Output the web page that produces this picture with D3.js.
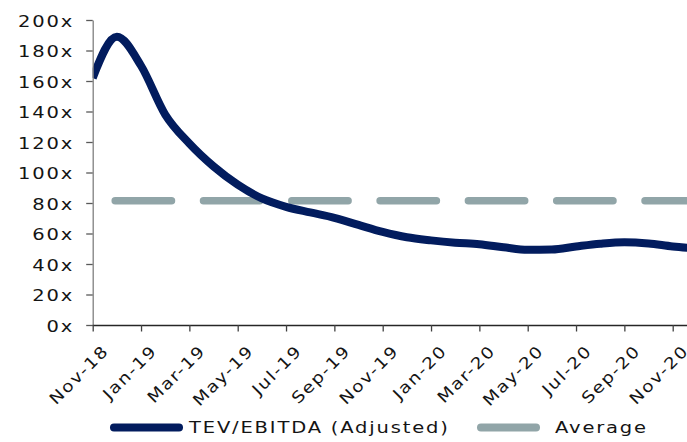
<!DOCTYPE html>
<html>
<head>
<meta charset="utf-8">
<script src="https://cdn.jsdelivr.net/npm/d3@7"></script>
<style>
  html, body { margin: 0; padding: 0; background: #fff; }
  svg { display: block; }
  text { font-family: "DejaVu Sans", sans-serif; fill: #141414; }
</style>
</head>
<body>
<svg id="chart" width="687" height="442"></svg>
<script>
// ---- data ----
const months = ["Nov-18","Dec-18","Jan-19","Feb-19","Mar-19","Apr-19","May-19","Jun-19","Jul-19","Aug-19","Sep-19","Oct-19",
                "Nov-19","Dec-19","Jan-20","Feb-20","Mar-20","Apr-20","May-20","Jun-20","Jul-20","Aug-20","Sep-20","Oct-20","Nov-20","Dec-20"];
const tevEbitda = [162, 189, 170, 138, 119, 104, 92, 83, 77.5, 73.8, 70.3, 65.6,
                   61, 57.5, 55.5, 54, 53, 51, 49.3, 49.5, 51.5, 53.3, 54.3, 53.5, 51.5, 50.2];
const averageValue = 81.5;
const yTicks = [0, 20, 40, 60, 80, 100, 120, 140, 160, 180, 200];
const xTickLabels = ["Nov-18","Jan-19","Mar-19","May-19","Jul-19","Sep-19","Nov-19","Jan-20","Mar-20","May-20","Jul-20","Sep-20","Nov-20"];
const seriesNames = ["TEV/EBITDA (Adjusted)", "Average"];

// ---- layout ----
const svg = d3.select("#chart");
const mLeft = 92.7, mRight = 672.7, mTop = 20, mBottom = 325;
const navy = "#021c5e", grey = "#91a5a8";
const FS = 16, LS = 1.5, SX = 1.22;

const x = d3.scaleLinear().domain([0, 24]).range([mLeft, mRight]);
const y = d3.scaleLinear().domain([0, 200]).range([mBottom, mTop]);

svg.append("defs").append("clipPath").attr("id", "plot")
  .append("rect").attr("x", mLeft).attr("y", 0).attr("width", 687 - mLeft).attr("height", mBottom);

// average dashed line
const avgData = [0, months.length - 1].map(i => ({ i, v: averageValue }));
const period = 88.3, dashLen = 56.3;
svg.append("path")
  .datum(avgData)
  .attr("d", d3.line().x(d => x(d.i)).y(d => y(d.v)))
  .attr("fill", "none")
  .attr("stroke", grey)
  .attr("stroke-width", 7.5)
  .attr("stroke-linecap", "round")
  .attr("stroke-dasharray", `${dashLen},${period - dashLen}`)
  .attr("stroke-dashoffset", period - 22.5);

// main series
svg.append("path")
  .datum(tevEbitda.map((v, i) => ({ i, v })))
  .attr("clip-path", "url(#plot)")
  .attr("d", d3.line().x(d => x(d.i)).y(d => y(d.v)).curve(d3.curveMonotoneX))
  .attr("fill", "none")
  .attr("stroke", navy)
  .attr("stroke-width", 8)
  .attr("stroke-linejoin", "round");

function styleText(sel) {
  sel.attr("font-size", FS).attr("letter-spacing", LS)
     .attr("font-family", "DejaVu Sans").style("fill", "#141414");
}

// y axis
const yAxis = svg.append("g").attr("transform", `translate(${mLeft},0)`)
  .call(d3.axisLeft(y).tickValues(yTicks).tickFormat(d => d + "x").tickSize(6.5).tickSizeOuter(0));
yAxis.select(".domain").attr("stroke", "#7f7f7f").attr("stroke-width", 1.3);
yAxis.selectAll(".tick line").attr("stroke", "#595959").attr("stroke-width", 1.3);
yAxis.selectAll(".tick text")
  .attr("x", 0).attr("y", 0).attr("dy", 0)
  .attr("text-anchor", "end")
  .attr("transform", `translate(${-20.4 + LS * SX},6.3) scale(${SX},1)`)
  .call(styleText);

// x axis
const xTickIdx = xTickLabels.map(l => months.indexOf(l));
const xAxis = svg.append("g").attr("transform", `translate(0,${mBottom})`)
  .call(d3.axisBottom(x).tickValues(xTickIdx).tickFormat(i => months[i]).tickSize(6.5).tickSizeOuter(0));
xAxis.select(".domain").attr("d", `M${mLeft},0.5H687`).attr("stroke", "#262626").attr("stroke-width", 1.3);
xAxis.selectAll(".tick line").attr("stroke", "#404040").attr("stroke-width", 1.3);
const XS = 1.15;
xAxis.selectAll(".tick text")
  .attr("text-anchor", "end")
  .attr("x", 0).attr("y", 0).attr("dy", 0)
  .attr("transform", `translate(${15.3 + LS * XS * 0.707},${28 - LS * XS * 0.707}) rotate(-45) scale(${XS},1)`)
  .call(styleText);

// legend
const lg = svg.append("g");
lg.append("line").attr("x1", 114).attr("x2", 179).attr("y1", 427.5).attr("y2", 427.5)
  .attr("stroke", navy).attr("stroke-width", 8).attr("stroke-linecap", "round");
lg.append("text").attr("transform", `translate(189,433) scale(${SX},1)`).call(styleText).text(seriesNames[0]);
lg.append("line").attr("x1", 481).attr("x2", 536).attr("y1", 427.5).attr("y2", 427.5)
  .attr("stroke", grey).attr("stroke-width", 8).attr("stroke-linecap", "round");
lg.append("text").attr("transform", `translate(555,433) scale(${SX},1)`).call(styleText).text(seriesNames[1]);
</script>
</body>
</html>
